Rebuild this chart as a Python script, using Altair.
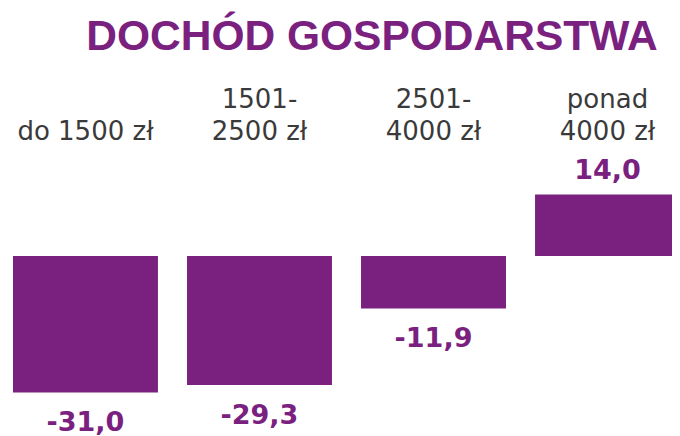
import altair as alt
import pandas as pd

title_text = "DOCHÓD GOSPODARSTWA"
categories = ["do 1500 zł", "1501-2500 zł", "2501-4000 zł", "ponad 4000 zł"]
label_line1 = ["", "1501-", "2501-", "ponad"]
label_line2 = ["do 1500 zł", "2500 zł", "4000 zł", "4000 zł"]
values = [-31.0, -29.3, -11.9, 14.0]
value_labels = ["-31,0", "-29,3", "-11,9", "14,0"]

PURPLE = "#7A2180"
GREY = "#3a3a3a"

df = pd.DataFrame({
    "cat": categories,
    "l1": label_line1,
    "l2": label_line2,
    "value": values,
    "vlabel": value_labels,
})

xscale = alt.Scale(domain=categories, range=[5, 672], paddingInner=0.167, paddingOuter=0)
yscale = alt.Scale(domain=[-40.9, 56.4], nice=False, zero=False)

X = alt.X("cat:N", scale=xscale, axis=None, sort=categories)
Y = alt.Y("value:Q", scale=yscale, axis=None)

base = alt.Chart(df)

bars = base.mark_bar(color=PURPLE).encode(x=X, y=Y, y2=alt.datum(0))

neg_labels = base.transform_filter("datum.value < 0").mark_text(
    font="DejaVu Sans", fontWeight="bold", fontSize=27, color=PURPLE,
    baseline="middle", align="center", dy=31
).encode(x=X, y=Y, text="vlabel:N")

pos_labels = base.transform_filter("datum.value >= 0").mark_text(
    font="DejaVu Sans", fontWeight="bold", fontSize=27, color=PURPLE,
    baseline="middle", align="center", dy=-24
).encode(x=X, y=Y, text="vlabel:N")

line1 = base.mark_text(
    font="DejaVu Sans", fontSize=26, color=GREY, baseline="middle", align="center"
).encode(x=X, y=alt.value(92), text="l1:N")

line2 = base.mark_text(
    font="DejaVu Sans", fontSize=26, color=GREY, baseline="middle", align="center"
).encode(x=X, y=alt.value(124), text="l2:N")

title = alt.Chart(pd.DataFrame({"t": [title_text]})).mark_text(
    font="Liberation Sans", fontWeight="bold", fontSize=42.5, color=PURPLE,
    baseline="middle", align="center"
).encode(x=alt.value(364), y=alt.value(29), text="t:N")

chart = alt.layer(bars, neg_labels, pos_labels, line1, line2, title).properties(
    width=664, height=428, padding=0,
    autosize=alt.AutoSizeParams(type="none")
).configure_view(stroke=None)

chart.save("out.html", embed_options={"renderer": "svg", "actions": False})
